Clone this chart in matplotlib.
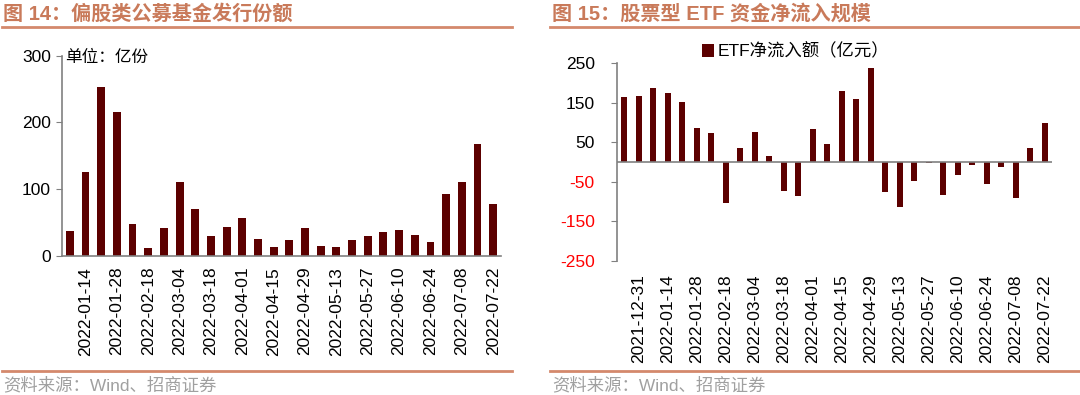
import matplotlib.pyplot as plt
from matplotlib.lines import Line2D

plt.rcParams['font.family'] = ['Liberation Sans', 'Noto Sans CJK SC']

# --- data ---
dates_left = ['2022-01-07', '2022-01-14', '2022-01-21', '2022-01-28', '2022-02-11', '2022-02-18',
              '2022-02-25', '2022-03-04', '2022-03-11', '2022-03-18', '2022-03-25', '2022-04-01',
              '2022-04-08', '2022-04-15', '2022-04-22', '2022-04-29', '2022-05-06', '2022-05-13',
              '2022-05-20', '2022-05-27', '2022-06-03', '2022-06-10', '2022-06-17', '2022-06-24',
              '2022-07-01', '2022-07-08', '2022-07-15', '2022-07-22']
issue_shares = [37, 126, 253, 215, 47, 11, 42, 111, 70, 30, 43, 57, 25, 13,
                23, 42, 15, 13, 23, 30, 35, 39, 31, 21, 92, 111, 168, 78]

dates_right = ['2021-12-24', '2021-12-31'] + dates_left
etf_inflow = [165, 167, 188, 174, 153, 87, 74, -105, 36, 75, 14, -74, -85, 84, 45,
              181, 159, 239, -75, -113, -47, -3, -84, -33, -8, -56, -12, -92, 35, 100]

bar_color = '#5C0000'
title_color = '#C97A5A'
grey = '#808080'

fig = plt.figure(figsize=(10.8, 3.95), dpi=100)

# --- left panel ---
ax1 = fig.add_axes([62 / 1080, 1 - 255.7 / 395, 439 / 1080, 200 / 395])
x1 = range(len(issue_shares))
ax1.bar(x1, issue_shares, width=0.5, color=bar_color)
ax1.set_xlim(-0.5, len(issue_shares) - 0.5)
ax1.set_ylim(0, 300)
ax1.set_yticks([0, 100, 200, 300])
ax1.set_xticks(list(x1)[1::2])
ax1.set_xticklabels(dates_left[1::2], rotation=90)
ax1.tick_params(axis='x', length=0, pad=8, labelsize=12.5)
ax1.tick_params(axis='y', length=4, color=grey, labelsize=12.5, pad=4)
for s in ['top', 'right']:
    ax1.spines[s].set_visible(False)
for s in ['left', 'bottom']:
    ax1.spines[s].set_color(grey)
    ax1.spines[s].set_linewidth(1.2)
fig.text(65 / 1080, 1 - 57.5 / 395, '单位：亿份', fontsize=12, va='center', ha='left',
         family=['Noto Sans CJK SC'])

# --- right panel ---
ax2 = fig.add_axes([617 / 1080, 1 - 260.7 / 395, 435 / 1080, 197.4 / 395])
x2 = range(len(etf_inflow))
ax2.bar(x2, etf_inflow, width=0.42, color=bar_color, label='ETF净流入额（亿元）')
ax2.axhline(0, color=grey, lw=1.2)
ax2.set_xlim(-0.5, len(etf_inflow) - 0.5)
ax2.set_ylim(-250, 250)
yt = [-250, -150, -50, 50, 150, 250]
ax2.set_yticks(yt)
ax2.set_yticklabels([str(v) for v in yt])
for lab, v in zip(ax2.get_yticklabels(), yt):
    lab.set_color('red' if v < 0 else 'black')
ax2.set_xticks(list(x2)[1::2])
ax2.set_xticklabels(dates_right[1::2], rotation=90)
ax2.tick_params(axis='x', length=0, pad=10, labelsize=12.5)
ax2.tick_params(axis='y', length=4, color=grey, labelsize=12.5, pad=12)
for s in ['top', 'right', 'bottom']:
    ax2.spines[s].set_visible(False)
ax2.spines['left'].set_color(grey)
ax2.spines['left'].set_linewidth(1.2)
ax2.legend(loc='center', bbox_to_anchor=(0.41, 1.06), frameon=False, fontsize=12.5,
           handlelength=0.7, handleheight=0.8, handletextpad=0.2)

# --- titles, rules, source ---
fig.text(3 / 1080, 1 - 14 / 395, '图 14：偏股类公募基金发行份额', fontsize=14.5, fontweight='bold',
         color=title_color, va='center', ha='left')
fig.text(552 / 1080, 1 - 14 / 395, '图 15：股票型 ETF 资金净流入规模', fontsize=14.5, fontweight='bold',
         color=title_color, va='center', ha='left')
for x0, x1_ in [(2, 512), (550, 1080)]:
    fig.add_artist(Line2D([x0 / 1080, x1_ / 1080], [1 - 27 / 395] * 2, color='#D4896C', lw=2))
    fig.add_artist(Line2D([x0 / 1080, x1_ / 1080], [1 - 371 / 395] * 2, color='#D4896C', lw=2))
fig.text(3 / 1080, 1 - 384.5 / 395, '资料来源：Wind、招商证券', fontsize=12.5, color='#A0A0A0',
         va='center', ha='left')
fig.text(552 / 1080, 1 - 384.5 / 395, '资料来源：Wind、招商证券', fontsize=12.5, color='#A0A0A0',
         va='center', ha='left')

fig.savefig('out.png', dpi=100)
